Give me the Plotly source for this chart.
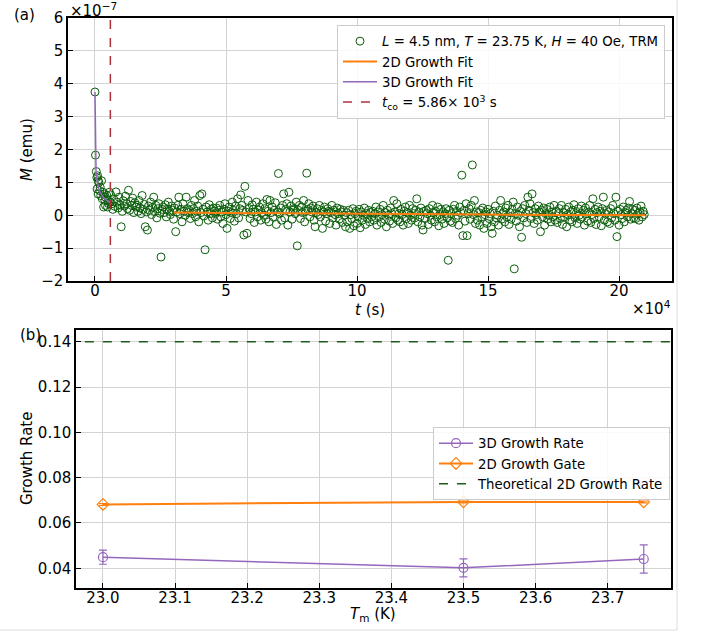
import numpy as np
import plotly.graph_objects as go

# ---------------- data: panel (a) ----------------
# time in units of 1e4 s, magnetization in units of 1e-7 emu
t_early = [0.0, 0.02, 0.05, 0.07, 0.08, 0.10, 0.12, 0.12, 0.15, 0.18, 0.20, 0.22, 0.25,
           0.28, 0.30, 0.33, 0.35, 0.38, 0.40, 0.40, 0.45, 0.48, 0.50, 0.52, 0.55, 0.58]
M_early = [3.75, 1.83, 1.33, 1.15, 0.80, 1.20, 1.05, 0.65, 1.00, 0.75, 0.85, 0.60, 1.05,
           0.50, 0.70, 0.25, 0.65, 0.45, 0.55, 0.30, 0.60, 0.25, 0.45, 0.35, 0.70, 0.40]

t_start = 0.6   # first regular sample (1e4 s)
t_step = 0.04   # sampling interval (1e4 s)
M_main = [
    0.62, 0.35, 0.18, 0.48, 0.27, 0.71, 0.40, 0.22, 0.55, 0.31, -0.35, 0.12, 0.44, 0.28, 0.58, 0.35, 0.20, 0.76, 0.15, 0.42, 0.30, 0.52, 0.08, 0.38, 0.25,
    0.30, 0.12, 0.45, 0.22, 0.05, 0.60, 0.18, 0.33, -0.35, 0.10, -0.45, 0.28, 0.15, 0.40, 0.02, 0.24, 0.55, 0.11, 0.30, -0.08, 0.20, 0.35, 0.06, -1.27, 0.18,
    0.25, 0.08, 0.32, -0.05, 0.18, 0.40, 0.12, 0.02, 0.28, 0.15, -0.12, 0.22, -0.50, 0.10, 0.30, 0.55, 0.05, 0.18, -0.20, 0.35, 0.12, 0.00, 0.55, 0.20, 0.08,
    0.15, -0.10, 0.30, 0.05, 0.20, 0.45, -0.05, 0.12, 0.28, -0.20, 0.60, 0.08, 0.65, 0.18, -0.02, -1.05, 0.25, 0.10, -0.15, 0.32, 0.05, 0.18, -0.08, 0.22, 0.12,
    0.05, 0.22, -0.12, 0.15, 0.30, -0.05, 0.10, -0.25, 0.18, 0.35, 0.02, -0.40, 0.12, 0.25, -0.10, 0.08, 0.40, 0.15, -0.18, 0.28, 0.05, 0.50, -0.08, 0.20, 0.62,
    0.30, 0.15, -0.60, 0.88, 0.10, -0.55, 0.45, 0.20, -0.10, 0.05, 0.32, 0.18, -0.22, 0.10, 0.40, -0.05, 0.15, 0.25, -0.15, 0.08, 0.35, 0.00, 0.20, -0.12, 0.48,
    0.12, -0.20, 0.45, 0.08, 0.25, -0.05, 0.15, 0.38, -0.28, 0.10, 1.27, 0.05, 0.22, -0.15, 0.30, 0.65, -0.08, 0.18, 0.35, -0.30, 0.70, 0.10, 0.28, -0.12, 0.15,
    0.20, 0.05, 0.40, -0.93, 0.15, 0.30, -0.10, 0.25, 0.08, 0.45, -0.20, 0.12, 1.28, 0.18, 0.35, -0.05, 0.22, 0.10, 0.28, -0.15, -0.35, 0.08, 0.20, 0.02, 0.30,
    -0.05, 0.15, -0.40, 0.10, 0.25, -0.18, 0.05, 0.20, 0.12, -0.25, 0.08, 0.30, -0.08, 0.15, 0.02, -0.30, 0.22, 0.05, -0.12, 0.18, 0.10, -0.22, 0.15, 0.00, -0.35,
    0.08, -0.20, 0.15, -0.40, 0.02, -0.10, 0.20, -0.32, 0.05, 0.12, -0.25, -0.05, 0.18, -0.38, 0.10, -0.15, 0.00, 0.22, -0.28, 0.05, -0.10, 0.15, -0.20, 0.08, -0.05,
    0.12, -0.15, 0.05, 0.25, -0.30, 0.10, -0.05, 0.18, -0.22, 0.02, 0.30, -0.12, 0.08, -0.35, 0.15, 0.00, -0.18, 0.22, 0.05, -0.25, 0.45, 0.10, -0.08, 0.35, -0.15,
    0.05, -0.20, 0.18, 0.02, -0.30, 0.12, 0.25, -0.10, 0.08, -0.25, 0.30, 0.00, -0.15, 0.20, 0.05, -0.08, 0.15, 0.50, -0.20, 0.10, -0.05, 0.22, -0.30, -0.45, 0.12,
    -0.10, 0.15, 0.05, -0.28, 0.20, 0.00, -0.15, 0.30, 0.08, -0.20, 0.12, -0.05, 0.25, -0.32, 0.02, 0.18, -0.12, 0.10, -0.25, 0.05, 0.20, -0.08, -1.37, 0.15, -0.18,
    0.05, -0.22, 0.18, 0.30, -0.10, 0.12, 0.00, -0.30, 0.25, 0.08, 1.22, -0.62, 0.15, -0.18, 0.35, -0.62, 0.05, 0.20, -0.12, 0.30, 1.53, 0.02, 0.45, -0.25, 0.10,
    -0.15, 0.08, -0.30, 0.15, -0.05, 0.22, -0.40, 0.02, 0.10, -0.25, 0.18, -0.10, 0.05, -0.35, -0.55, 0.12, -0.20, 0.28, -0.08, 0.00, -0.30, 0.15, 0.45, -0.12, 0.05,
    0.10, -0.20, 0.22, -0.05, 0.30, -0.28, 0.08, -0.12, 0.18, 0.40, -1.63, 0.05, -0.18, 0.25, 0.00, -0.35, 0.12, -0.67, 0.20, -0.08, 0.30, 0.05, -0.22, 0.55, 0.15,
    0.35, -0.10, 0.65, 0.08, -0.25, 0.20, 0.02, -0.15, 0.28, 0.10, -0.50, 0.15, -0.05, 0.22, -0.30, 0.05, 0.18, -0.12, 0.00, 0.25, -0.20, 0.10, -0.05, 0.30, -0.15,
    0.12, -0.22, 0.05, 0.20, -0.10, 0.30, -0.28, 0.08, -0.05, 0.18, -0.35, 0.02, 0.25, -0.15, 0.10, -0.20, 0.15, 0.32, -0.08, 0.05, -0.25, 0.20, 0.00, -0.12, 0.28,
    -0.05, 0.15, -0.30, 0.22, 0.05, -0.18, 0.10, 0.30, -0.22, 0.02, 0.50, -0.10, 0.18, -0.28, 0.08, 0.25, -0.05, 0.12, -0.32, 0.20, 0.55, -0.15, 0.05, 0.15, -0.20,
    0.10, -0.25, 0.20, -0.08, 0.30, 0.05, -0.15, 0.55, -0.65, 0.12, -0.30, 0.18, 0.02, -0.10, 0.25, -0.20, 0.08, 0.15, -0.05, 0.22, 0.42, -0.12, 0.05, 0.18, -0.08,
    0.15, -0.10, 0.22, 0.05, -0.15, 0.10, 0.28, -0.05, 0.12, 0.02,
]
t_main = t_start + t_step * np.arange(len(M_main))

fit3d_t = [0.0, 0.005, 0.01, 0.02, 0.04, 0.07, 0.10, 0.15, 0.20, 0.30, 0.40, 0.50, 0.586]
fit3d_M = [3.75, 2.90, 2.30, 1.70, 1.30, 1.10, 0.95, 0.80, 0.70, 0.55, 0.48, 0.42, 0.38]
fit2d_t = [3.0, 6.0, 10.0, 15.0, 21.0]
fit2d_M = [0.08, 0.06, 0.04, 0.02, 0.00]
t_co = 0.586

# ---------------- data: panel (b) ----------------
Tm = [23.0, 23.5, 23.75]
rate3d = [0.0449, 0.0402, 0.0441]
err3d = [0.0031, 0.0040, 0.0062]
rate2d = [0.0682, 0.0693, 0.0693]
err2d = [0.0004, 0.0004, 0.0004]
rate_theory = 0.14

W, H = 704, 631
def px(x): return x / W
def py(y): return 1 - y / H

GREEN = "#0b5e0b"
ORANGE = "#ff7f0e"
PURPLE = "#9467bd"
RED = "#b0303a"
FONT = "DejaVu Sans"

fig = go.Figure()

t_all = list(t_early) + list(t_main)
M_all = list(M_early) + list(M_main)
fig.add_trace(go.Scatter(
    x=t_all, y=M_all, mode="markers", xaxis="x", yaxis="y", legend="legend",
    name="<i>L</i> = 4.5 nm, <i>T</i> = 23.75 K, <i>H</i> = 40 Oe, TRM",
    marker=dict(symbol="circle-open", size=8, color=GREEN, line=dict(width=1, color=GREEN)),
))
fig.add_trace(go.Scatter(x=fit2d_t, y=fit2d_M, mode="lines", name="2D Growth Fit",
                         xaxis="x", yaxis="y", legend="legend",
                         line=dict(color=ORANGE, width=2)))
fig.add_trace(go.Scatter(x=fit3d_t, y=fit3d_M, mode="lines", name="3D Growth Fit",
                         xaxis="x", yaxis="y", legend="legend",
                         line=dict(color=PURPLE, width=1.5)))
fig.add_trace(go.Scatter(x=[t_co, t_co], y=[-2, 6], mode="lines",
                         name="<i>t</i><sub>co</sub> = 5.86× 10<sup>3</sup> s",
                         xaxis="x", yaxis="y", legend="legend",
                         line=dict(color=RED, width=1.5, dash="dash")))

# panel (b)
fig.add_trace(go.Scatter(x=Tm, y=rate3d, mode="lines+markers", name="3D Growth Rate",
                         xaxis="x2", yaxis="y2", legend="legend2",
                         line=dict(color=PURPLE, width=1.5),
                         marker=dict(symbol="circle-open", size=9, color=PURPLE, line=dict(width=1.2)),
                         error_y=dict(type="data", array=err3d, color=PURPLE, thickness=1.2, width=4)))
fig.add_trace(go.Scatter(x=Tm, y=rate2d, mode="lines+markers", name="2D Growth Gate",
                         xaxis="x2", yaxis="y2", legend="legend2",
                         line=dict(color=ORANGE, width=2),
                         marker=dict(symbol="diamond-open", size=9, color=ORANGE, line=dict(width=1.2)),
                         error_y=dict(type="data", array=err2d, color=ORANGE, thickness=1.2, width=4)))
fig.add_trace(go.Scatter(x=[22.9, 23.9], y=[rate_theory, rate_theory], mode="lines",
                         name="Theoretical 2D Growth Rate",
                         xaxis="x2", yaxis="y2", legend="legend2",
                         line=dict(color="#1a5e1a", width=1.5, dash="dash")))

axis_common = dict(showline=True, linecolor="black", linewidth=1.5, mirror=True,
                   ticks="inside", ticklen=5, tickwidth=1, tickcolor="black",
                   showgrid=True, gridcolor="#d3d3d3", gridwidth=1, zeroline=False,
                   automargin=False,
                   tickfont=dict(family=FONT, size=15, color="black"))

def ann(text, x, y, xanchor="center", angle=0, size=15):
    return dict(text=text, x=px(x), y=py(y), xref="paper", yref="paper",
                xanchor=xanchor, yanchor="middle", showarrow=False, textangle=angle,
                font=dict(family=FONT, size=size, color="black"))

fig.update_layout(
    width=W, height=H, margin=dict(l=0, r=0, t=0, b=0, autoexpand=False),
    paper_bgcolor="white", plot_bgcolor="white",
    font=dict(family=FONT, size=15, color="black"),
    xaxis=dict(domain=[px(68), px(672)], anchor="y", range=[-1.03, 22.02],
               tickvals=[0, 5, 10, 15, 20], ticklabelstandoff=-5, **axis_common),
    yaxis=dict(domain=[py(281), py(18)], anchor="x", range=[-2, 6], dtick=1, **axis_common),
    xaxis2=dict(domain=[px(76), px(671)], anchor="y2", range=[22.9626, 23.7878],
                tickvals=[23.0, 23.1, 23.2, 23.3, 23.4, 23.5, 23.6, 23.7], tickformat=".1f",
                ticklabelstandoff=-5, **axis_common),
    yaxis2=dict(domain=[py(588), py(330)], anchor="x2", range=[0.03131, 0.14516],
                tickvals=[0.04, 0.06, 0.08, 0.10, 0.12, 0.14], tickformat=".2f",
                **axis_common),
    legend=dict(x=px(337), y=py(25), xanchor="left", yanchor="top",
                bgcolor="rgba(255,255,255,0.85)", bordercolor="#cccccc", borderwidth=1,
                font=dict(family=FONT, size=13.3, color="black"), itemwidth=34),
    legend2=dict(x=px(433), y=py(427), xanchor="left", yanchor="top",
                 bgcolor="rgba(255,255,255,0.85)", bordercolor="#cccccc", borderwidth=1,
                 font=dict(family=FONT, size=13.3, color="black"), itemwidth=34),
    annotations=[
        ann("(a)", 12, 15, xanchor="left"),
        ann("(b)", 18, 335, xanchor="left"),
        ann("×10<sup>−7</sup>", 68, 10, xanchor="left"),
        ann("×10<sup>4</sup>", 673, 308, xanchor="right"),
        ann("<i>t</i> (s)", 370, 310),
        ann("<i>M</i> (emu)", 27, 150, angle=-90),
        ann("<i>T</i><sub>m</sub> (K)", 373, 614),
        ann("Growth Rate", 27, 459, angle=-90),
    ],
    shapes=[
        dict(type="line", xref="paper", yref="paper", x0=px(677), x1=px(677), y0=py(0), y1=py(630),
             line=dict(color="#dddddd", width=1)),
        dict(type="line", xref="paper", yref="paper", x0=px(0), x1=px(677), y0=py(630), y1=py(630),
             line=dict(color="#dddddd", width=1)),
    ],
)

fig.write_html("out.html", config={"displayModeBar": False},
               post_script="document.body.style.margin='0px'; document.body.style.overflow='hidden';")
